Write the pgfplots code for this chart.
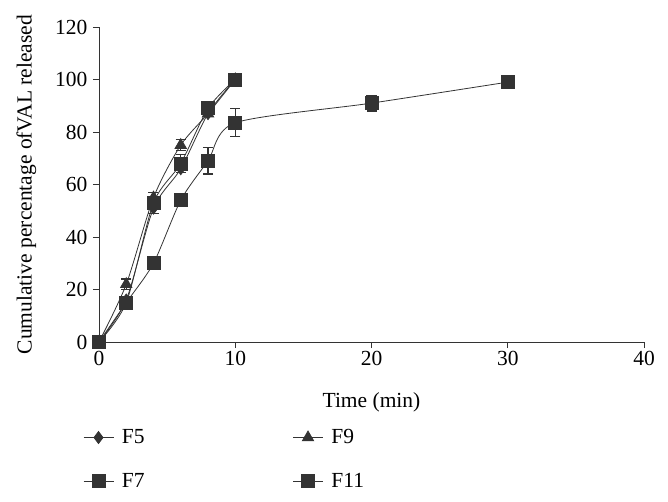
\documentclass[border=0pt]{standalone}
\usepackage{fontspec}
\setmainfont{Liberation Serif}
\usepackage{pgfplots}
\pgfplotsset{compat=1.18}
\definecolor{ink}{HTML}{333333}
\newcommand{\bigfont}{\fontsize{21.5bp}{25bp}\selectfont}

\begin{document}
\begin{tikzpicture}[font=\bigfont]
    \begin{axis}[
        scale only axis,
        width=545bp,
        height=315bp,
        xmin=0,xmax=40,
        ymin=0,ymax=120,
        xtick={0,10,...,40},
        ytick={0,20,...,120},
        axis x line*=bottom,
        axis y line*=left,
        axis line style={ink,line width=0.9pt,-},
        tick style={ink,line width=0.9pt},
        tick align=outside,
        major tick length=6bp,
        /pgf/number format/assume math mode=true,
        tick label style={font=\bigfont},
        yticklabel style={xshift=-2bp},
        label style={font=\bigfont},
        xlabel={Time (min)},
        ylabel={Cumulative percentage ofVAL released},
        xlabel style={yshift=-20bp},
        ylabel style={yshift=12bp},
        clip=false,
        error bars/error bar style={ink,line width=1.2pt},
        error bars/error mark options={rotate=90,mark size=5bp,line width=1.2pt,ink},
        legend cell align=left,
        legend columns=2,
        legend style={
            draw=none,
            fill=none,
            at={(-0.035,-0.265)},
            anchor=north west,
            /tikz/every even column/.append style={column sep=140bp},
            row sep=24bp,
            font=\bigfont,
            nodes={inner xsep=8bp},
        },
        legend image code/.code={
            \draw[#1,sharp plot,mark repeat=2,mark phase=2] plot coordinates {(0bp,0bp) (15bp,0bp) (30bp,0bp)};
        },
    ]

    % F5
    \addplot[ink,line width=0.8pt,smooth,tension=0.45,mark=diamond*,mark size=6bp,mark options={fill=ink,draw=ink,solid}]
        coordinates {(0,0) (2,16) (4,51) (6,66) (8,87) (10,100)};
    \addlegendentry{F5}

    % F9
    \addplot[ink,line width=0.8pt,smooth,tension=0.45,mark=triangle*,mark size=6.5bp,mark options={fill=ink,draw=ink,solid},
        error bars/.cd,y dir=both,y explicit]
        coordinates {(0,0) (2,22) +- (0,2) (4,55) +- (0,2) (6,75) +- (0,2) (8,87) (10,100)};
    \addlegendentry{F9}

    % F7
    \addplot[ink,line width=0.8pt,smooth,tension=0.45,mark=square*,mark size=6.5bp,mark options={fill=ink,draw=ink,solid},
        error bars/.cd,y dir=both,y explicit]
        coordinates {(0,0) (2,15) (4,53) +- (0,4) (6,68) +- (0,3.5) (8,89) (10,100)};
    \addlegendentry{F7}

    % F11
    \addplot[ink,line width=0.8pt,smooth,tension=0.45,mark=square*,mark size=6.5bp,mark options={fill=ink,draw=ink,solid},
        error bars/.cd,y dir=both,y explicit]
        coordinates {(0,0) (2,15) (4,30) +- (0,2) (6,54) +- (0,1.5) (8,69) +- (0,5)
                     (10,83.5) +- (0,5.3) (20,91) +- (0,3) (30,99) +- (0,2)};
    \addlegendentry{F11}

    \end{axis}
    \pgfresetboundingbox
    \path[use as bounding box] (-99bp,-160bp) rectangle (569bp,342bp);
\end{tikzpicture}
\end{document}
